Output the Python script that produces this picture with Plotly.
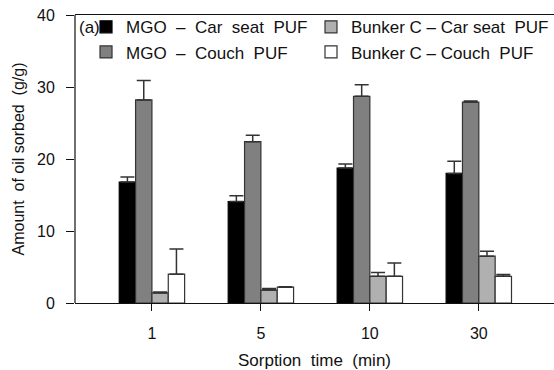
import plotly.graph_objects as go

categories = ["1", "5", "10", "30"]
series_names = ["MGO  \u2013  Car  seat  PUF", "MGO  \u2013  Couch  PUF",
                "Bunker C \u2013 Car seat  PUF", "Bunker C \u2013 Couch  PUF"]
mgo_car = [16.8, 14.1, 18.75, 18.0]
mgo_car_err = [0.7, 0.8, 0.55, 1.7]
mgo_couch = [28.2, 22.4, 28.7, 27.9]
mgo_couch_err = [2.7, 0.9, 1.6, 0.15]
bunker_car = [1.4, 1.8, 3.7, 6.5]
bunker_car_err = [0.12, 0.2, 0.55, 0.7]
bunker_couch = [4.0, 2.2, 3.7, 3.7]
bunker_couch_err = [3.5, 0.05, 1.85, 0.25]
y_ticks = [0, 10, 20, 30, 40]

colors = ["#000000", "#808080", "#b0b0b0", "#ffffff"]
values = [mgo_car, mgo_couch, bunker_car, bunker_couch]
errors = [mgo_car_err, mgo_couch_err, bunker_car_err, bunker_couch_err]
legends = ["legend", "legend", "legend2", "legend2"]

FONT = "Liberation Sans, Arial, sans-serif"
fig = go.Figure()
for i in range(4):
    fig.add_trace(go.Bar(
        x=list(range(len(categories))), y=values[i], name=series_names[i],
        marker=dict(color=colors[i], line=dict(color="#000000" if i == 0 else "#333333", width=1.2)),
        error_y=dict(type="data", symmetric=False, array=errors[i],
                     arrayminus=[0] * len(categories),
                     color="#333333", thickness=1.5, width=7),
        legend=legends[i], legendgroup=f"g{i}",
    ))

leg_common = dict(yanchor="top", bgcolor="rgba(0,0,0,0)",
                  font=dict(size=17, family=FONT, color="#111111"),
                  tracegroupgap=10, itemwidth=30, traceorder="normal")
fig.update_layout(
    width=554, height=370,
    margin=dict(l=75, r=0, t=15, b=67),
    paper_bgcolor="white", plot_bgcolor="white",
    barmode="group", bargap=0.4, bargroupgap=0,
    font=dict(family=FONT, size=16, color="#111111"),
    showlegend=True,
    legend=dict(x=0.023, y=1.02, xanchor="left", **leg_common),
    legend2=dict(x=1.0, y=1.02, xanchor="right", **leg_common),
    annotations=[dict(text="(a)", xref="paper", yref="paper", x=0.004, y=0.955,
                      xanchor="left", yanchor="middle", showarrow=False,
                      font=dict(size=17, family=FONT, color="#111111"))],
    shapes=[dict(type="line", xref="paper", yref="paper", x0=0, x1=0, y0=0, y1=1,
                 line=dict(color="#111111", width=1.2), layer="above")],
)
fig.update_xaxes(
    range=[-0.706, 3.69], tickmode="array", tickvals=list(range(len(categories))),
    ticktext=categories, ticks="outside", ticklen=7, tickwidth=1.2, tickcolor="#111111",
    showline=True, linecolor="#111111", linewidth=1.2, mirror=True,
    showgrid=False, zeroline=False, ticklabelstandoff=9, automargin=False,
    title=dict(text="Sorption  time  (min)", font=dict(size=17), standoff=12),
)
fig.update_yaxes(
    range=[0, 40], tickmode="array", tickvals=y_ticks, ticks="outside", ticklen=8,
    tickwidth=1.2, tickcolor="#111111", showline=False,
    showgrid=False, zeroline=False, ticklabelstandoff=8, automargin=False,
    title=dict(text="Amount  of oil sorbed  (g/g)", font=dict(size=16), standoff=8),
)
fig.write_html("out.html")
